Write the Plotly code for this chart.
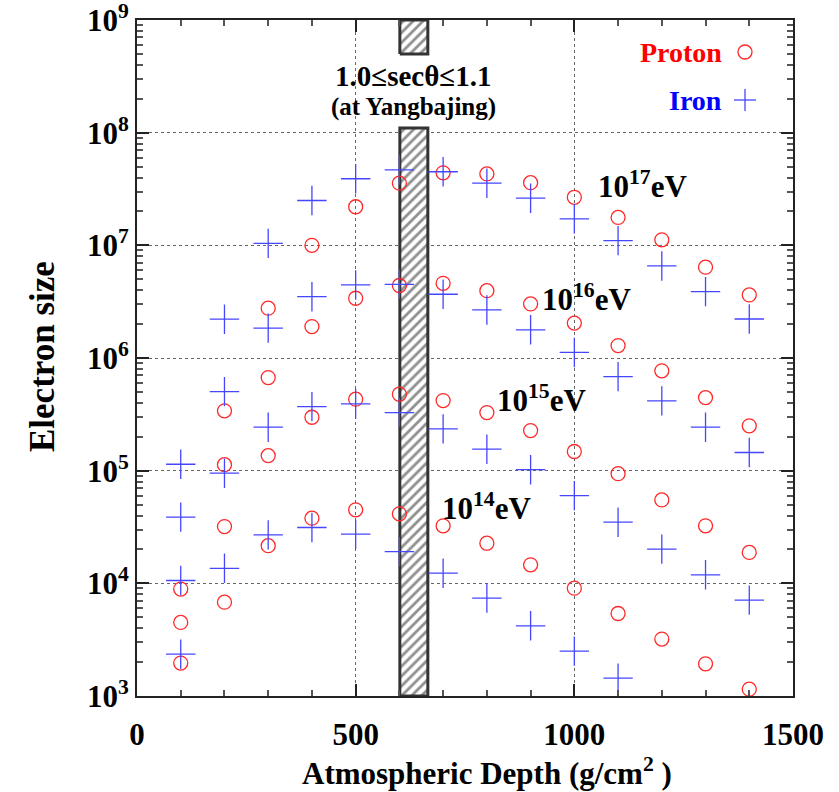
import plotly.graph_objects as go

# ---------------- data ----------------
depth = [100, 200, 300, 400, 500, 600, 700, 800, 900, 1000, 1100, 1200, 1300, 1400]

proton_1e17 = [8.9e3, 3.4e5, 2.77e6, 1.0e7, 2.2e7, 3.56e7, 4.4e7, 4.3e7, 3.6e7, 2.67e7, 1.77e7, 1.12e7, 6.4e6, 3.63e6]
proton_1e16 = [4.5e3, 1.13e5, 6.7e5, 1.9e6, 3.39e6, 4.4e6, 4.6e6, 3.96e6, 3.02e6, 2.04e6, 1.29e6, 7.7e5, 4.45e5, 2.5e5]
proton_1e15 = [1.96e3, 3.19e4, 1.36e5, 2.98e5, 4.31e5, 4.77e5, 4.19e5, 3.28e5, 2.27e5, 1.48e5, 9.4e4, 5.5e4, 3.24e4, 1.88e4]
proton_1e14 = [None, 6.8e3, 2.16e4, 3.79e4, 4.49e4, 4.14e4, 3.24e4, 2.27e4, 1.46e4, 9.06e3, 5.4e3, 3.2e3, 1.93e3, 1.15e3]

iron_1e17 = [1.14e5, 2.21e6, 1.04e7, 2.5e7, 3.9e7, 4.67e7, 4.5e7, 3.56e7, 2.62e7, 1.72e7, 1.1e7, 6.56e6, 3.88e6, 2.22e6]
iron_1e16 = [3.87e4, 5.03e5, 1.84e6, 3.5e6, 4.45e6, 4.5e6, 3.68e6, 2.67e6, 1.78e6, 1.12e6, 6.84e5, 4.16e5, 2.43e5, 1.45e5]
iron_1e15 = [1.06e4, 9.5e4, 2.43e5, 3.7e5, 3.92e5, 3.28e5, 2.35e5, 1.55e5, 1.02e5, 6.0e4, 3.49e4, 2.01e4, 1.19e4, 7.1e3]
iron_1e14 = [2.35e3, 1.36e4, 2.69e4, 3.13e4, 2.73e4, 1.91e4, 1.23e4, 7.4e3, 4.2e3, 2.5e3, 1.44e3, None, None, None]

energy_labels = ["10<sup>17</sup>eV", "10<sup>16</sup>eV", "10<sup>15</sup>eV", "10<sup>14</sup>eV"]

x_ticks = [0, 500, 1000, 1500]
y_tick_exp = [3, 4, 5, 6, 7, 8, 9]

# Yangbajing zenith band (sec(theta) from 1.0 to 1.1), in g/cm^2
band_x = [601, 665]
band_lower_top = 1.1e8   # lower hatched segment ends below the label
band_upper_bottom = 5.0e8
y_min, y_max = 1e3, 1e9

RED = "rgb(255,40,40)"
BLUE = "rgb(70,70,255)"
FONT = "Liberation Serif"

fig = go.Figure()

# hatched band (two segments, gap for the label)
for y0, y1 in [(y_min, band_lower_top), (band_upper_bottom, y_max)]:
    fig.add_trace(go.Scatter(
        x=[band_x[0], band_x[1], band_x[1], band_x[0], band_x[0]],
        y=[y0, y0, y1, y1, y0],
        mode="lines", fill="toself",
        fillcolor="white",
        fillpattern=dict(shape="/", fgcolor="#222222", bgcolor="white", size=7, solidity=0.4),
        line=dict(color="#333333", width=3),
        hoverinfo="skip", showlegend=False,
    ))

for ser in [proton_1e17, proton_1e16, proton_1e15, proton_1e14]:
    fig.add_trace(go.Scatter(
        x=depth, y=ser, mode="markers",
        marker=dict(symbol="circle-open", size=14, color=RED, line=dict(color=RED, width=1.3)),
        showlegend=False,
    ))
for ser in [iron_1e17, iron_1e16, iron_1e15, iron_1e14]:
    fig.add_trace(go.Scatter(
        x=depth, y=ser, mode="markers",
        marker=dict(symbol="cross-thin-open", size=21, color=BLUE, line=dict(color=BLUE, width=1.3)),
        showlegend=False,
    ))

# plot area in pixels: x 137..793, y 20..696
L, R, T, B = 137, 793, 20, 696
def px(xp):
    return (xp - L) / (R - L)
def py(yp):
    return (B - yp) / (B - T)

annotations = [
    dict(text="1.0≤secθ≤1.1", x=px(413), y=py(76), font=dict(size=29)),
    dict(text="(at Yangbajing)", x=px(413), y=py(107), font=dict(size=25)),
    dict(text=energy_labels[0], x=px(642), y=py(185), font=dict(size=31)),
    dict(text=energy_labels[1], x=px(586), y=py(297), font=dict(size=31)),
    dict(text=energy_labels[2], x=px(541), y=py(399), font=dict(size=31)),
    dict(text=energy_labels[3], x=px(486), y=py(506), font=dict(size=31)),
    dict(text="Proton", x=px(724), y=py(52), xanchor="right", font=dict(size=28, color="red")),
    dict(text="Iron", x=px(724), y=py(100), xanchor="right", font=dict(size=28, color="blue")),
    dict(text="Electron size", x=px(42), y=py(357), textangle=-90, font=dict(size=35)),
    dict(text="Atmospheric Depth (g/cm<sup>2</sup> )", x=px(487), y=py(771), font=dict(size=31)),
]
for a in annotations:
    a.update(xref="paper", yref="paper", showarrow=False)
    a.setdefault("xanchor", "center")
    a["yanchor"] = "middle"
    a["font"].setdefault("color", "black")
    a["font"]["family"] = FONT
    a["font"]["weight"] = "bold"

shapes = [
    # legend keys
    dict(type="circle", xref="paper", yref="paper",
         x0=px(738), x1=px(752), y0=py(59), y1=py(45), line=dict(color=RED, width=1.3)),
    dict(type="line", xref="paper", yref="paper",
         x0=px(734), x1=px(756), y0=py(100), y1=py(100), line=dict(color=BLUE, width=1.3)),
    dict(type="line", xref="paper", yref="paper",
         x0=px(745), x1=px(745), y0=py(89), y1=py(111), line=dict(color=BLUE, width=1.3)),
]

axis_font = dict(family=FONT, size=31, color="black", weight="bold")

fig.update_layout(
    width=839, height=792,
    margin=dict(l=L, r=839 - R, t=T, b=792 - B),
    paper_bgcolor="white", plot_bgcolor="white",
    showlegend=False,
    annotations=annotations,
    shapes=shapes,
    xaxis=dict(
        range=[0, 1500], tickvals=x_ticks, ticktext=[str(v) for v in x_ticks],
        tickfont=axis_font, ticks="inside", ticklen=12, tickwidth=2, tickcolor="#222",
        ticklabelstandoff=10, ticklabeloverflow="allow",
        minor=dict(dtick=100, ticks="inside", ticklen=6, tickcolor="#555", showgrid=False),
        showgrid=True, gridcolor="#666", griddash="dot", gridwidth=1,
        showline=True, linecolor="#222", linewidth=2, mirror="allticks",
        zeroline=False, automargin=False,
    ),
    yaxis=dict(
        type="log", range=[3, 9],
        tickvals=[10 ** e for e in y_tick_exp],
        ticktext=["10<sup>%d</sup>" % e for e in y_tick_exp],
        tickfont=axis_font, ticks="inside", ticklen=12, tickwidth=2, tickcolor="#222",
        ticklabeloverflow="allow",
        minor=dict(dtick="D1", ticks="inside", ticklen=6, tickcolor="#555", showgrid=False),
        showgrid=True, gridcolor="#666", griddash="dot", gridwidth=1,
        showline=True, linecolor="#222", linewidth=2, mirror="allticks",
        zeroline=False, automargin=False,
    ),
)

fig.write_html("out.html")
